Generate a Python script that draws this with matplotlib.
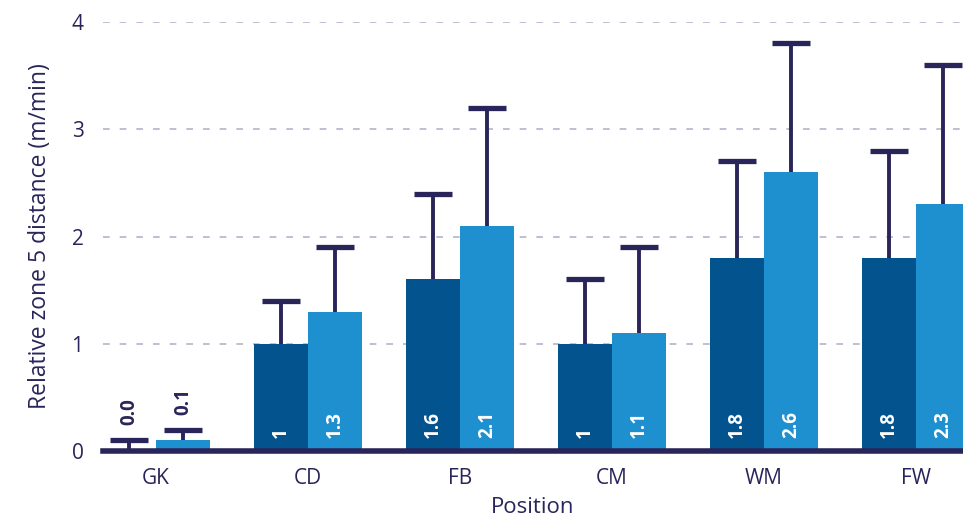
import numpy as np
import matplotlib.pyplot as plt

positions = ["GK", "CD", "FB", "CM", "WM", "FW"]
dark_vals = [0.0, 1.0, 1.6, 1.0, 1.8, 1.8]
dark_err = [0.1, 0.4, 0.8, 0.6, 0.9, 1.0]
light_vals = [0.1, 1.3, 2.1, 1.1, 2.6, 2.3]
light_err = [0.1, 0.6, 1.1, 0.8, 1.2, 1.3]
dark_labels = ["0.0", "1", "1.6", "1", "1.8", "1.8"]
light_labels = ["0.1", "1.3", "2.1", "1.1", "2.6", "2.3"]

navy = "#29255a"
dark = "#03538e"
light = "#1e8fcf"

plt.rcParams['font.family'] = ['Open Sans', 'DejaVu Sans']

fig = plt.figure(figsize=(9.63, 5.17), dpi=100)
ax = fig.add_axes([103 / 963, 1 - 451 / 517, 1 - 103 / 963, (451 - 22) / 517])

x = np.arange(len(positions))
w = 0.355
cap = 0.125
for off, vals, errs, col in [(-w / 2, dark_vals, dark_err, dark),
                             (w / 2, light_vals, light_err, light)]:
    vals = np.array(vals)
    tops = vals + np.array(errs)
    ax.bar(x + off, vals, w, color=col, zorder=2)
    ax.vlines(x + off, vals, tops, color=navy, linewidth=2.8, zorder=3)
    ax.hlines(tops, x + off - cap, x + off + cap, color=navy, linewidth=3.8, zorder=3)

for i in range(len(positions)):
    for off, v, e, lab in [(-w / 2, dark_vals[i], dark_err[i], dark_labels[i]),
                           (w / 2, light_vals[i], light_err[i], light_labels[i])]:
        if v < 0.5:
            ax.text(x[i] + off, v + e + 0.14, lab, rotation=90, ha='center', va='bottom',
                    color=navy, fontsize=13.5, fontweight='bold', zorder=4)
        else:
            ax.text(x[i] + off, 0.12, lab, rotation=90, ha='center', va='bottom',
                    color='white', fontsize=13.5, fontweight='bold', zorder=4)

ax.set_xlim(-0.349, 5.31)
ax.set_ylim(0, 4)
ax.set_yticks([0, 1, 2, 3, 4])
ax.yaxis.grid(True, linestyle=(0, (4, 6)), color="#b5b3c8", linewidth=1.2, zorder=0)
ax.set_axisbelow(True)
ax.set_xticks(x)
ax.set_xticklabels(positions)
ax.tick_params(length=0, labelsize=15, colors=navy, pad=12)
ax.tick_params(axis='y', pad=14)
for s in ['top', 'right', 'left']:
    ax.spines[s].set_visible(False)
ax.spines['bottom'].set_color(navy)
ax.spines['bottom'].set_linewidth(4)
ax.spines['bottom'].set_zorder(5)

ax.set_xlabel("Position", fontsize=16, color=navy, labelpad=6)
ax.set_ylabel("Relative zone 5 distance (m/min)", fontsize=16.5, color=navy, labelpad=14)

fig.savefig("out.png", dpi=100)
